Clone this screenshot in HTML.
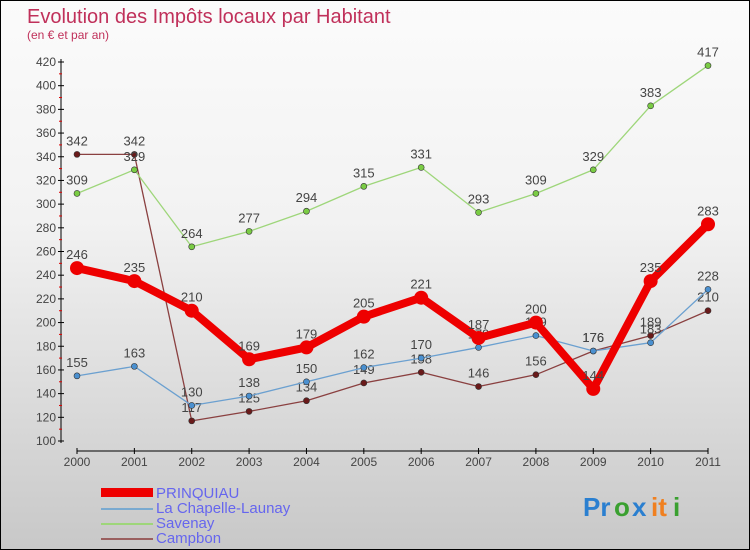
<!DOCTYPE html>
<html><head><meta charset="utf-8"><style>
body{margin:0}
#c{width:748px;height:548px;border:1px solid #000;background:linear-gradient(#fbfbfb,#f2f2f2 40%,#c8c8c8);position:relative;font-family:"Liberation Sans","DejaVu Sans",sans-serif}
</style></head><body>
<div id="c">
<svg id="s" width="748" height="548" style="position:absolute;left:0;top:0">
<text x="26" y="22" font-size="20" fill="#c0305a">Evolution des Impôts locaux par Habitant</text>
<text x="26" y="38" font-size="12" fill="#c0305a">(en € et par an)</text>
<g id="axes"></g><g id="series"></g>
<g>
<rect x="100" y="487" width="52" height="9" fill="#e00"/>
<rect x="100" y="507" width="52" height="2" fill="#7aaad0"/>
<rect x="100" y="522" width="52" height="2" fill="#9ed67a"/>
<rect x="100" y="537" width="52" height="2" fill="#9a6060"/>
<text x="155" y="497" font-size="15" fill="#6666ee">PRINQUIAU</text>
<text x="155" y="512" font-size="15" fill="#6666ee">La Chapelle-Launay</text>
<text x="155" y="527" font-size="15" fill="#6666ee">Savenay</text>
<text x="155" y="542" font-size="15" fill="#6666ee">Campbon</text>
</g>
<g font-size="26" font-weight="bold">
<text x="582" y="515" fill="#2a7fd0">Pr</text><text x="613" y="515" fill="#3aa030">o</text><text x="631" y="515" fill="#2a7fd0">x</text><text x="650" y="515" fill="#f08020">it</text><text x="672" y="515" fill="#3aa030">i</text>
</g>
</svg>
</div>
<script>
const years=["2000","2001","2002","2003","2004","2005","2006","2007","2008","2009","2010","2011"];
const yTicks=[100,120,140,160,180,200,220,240,260,280,300,320,340,360,380,400,420];
const prinquiau=[246,235,210,169,179,205,221,187,200,144,235,283];
const chapelle=[155,163,130,138,150,162,170,179,189,176,183,228];
const savenay=[309,329,264,277,294,315,331,293,309,329,383,417];
const campbon=[342,342,117,125,134,149,158,146,156,176,189,210];
const NS="http://www.w3.org/2000/svg";
const X=i=>76+i*(707-76)/(years.length-1);
const Y=v=>440-(v-100)*(440-61)/320;
function mk(p,t,a){const e=document.createElementNS(NS,t);for(const k in a)e.setAttribute(k,a[k]);p.appendChild(e);return e;}
const ax=document.getElementById('axes');
let yl=mk(ax,'line',{x1:60,y1:58,x2:60,y2:442,stroke:'#000'});


yTicks.forEach(v=>{
 mk(ax,'line',{x1:57,x2:63,y1:Y(v),y2:Y(v),stroke:'#000'});
 const t=mk(ax,'text',{x:55,y:Y(v)+4,'font-size':12,fill:'#444','text-anchor':'end'});t.textContent=v;
 
 
 if(v<420)mk(ax,'line',{x1:58,x2:61,y1:Y(v+10),y2:Y(v+10),stroke:'#d00'});
});
let xl=mk(ax,'line',{x1:76,y1:450,x2:707,y2:450,stroke:'#000'});


years.forEach((y,i)=>{
 mk(ax,'line',{x1:X(i),x2:X(i),y1:447,y2:453,stroke:'#000'});
 const t=mk(ax,'text',{x:X(i),y:465,'font-size':12,fill:'#444','text-anchor':'middle'});t.textContent=y;
 
 
});
const sg=document.getElementById('series');
function draw(name,vals,color,w,r,dot){
 const g=mk(sg,'g',{});
 
 
 mk(g,'polyline',{points:vals.map((v,i)=>X(i)+','+Y(v)).join(' '),fill:'none',stroke:color,'stroke-width':w,'stroke-linejoin':'round'});
 vals.forEach((v,i)=>{
  const c=mk(g,'circle',{cx:X(i),cy:Y(v),r:r,fill:dot,stroke:'#333','stroke-width':r>4?0:0.6});
  
  
  const t=mk(g,'text',{x:X(i),y:Y(v)-9,'font-size':13,fill:'#444','text-anchor':'middle'});t.textContent=v;
  
  
 });
}
draw('campbon',campbon,'#8a4040',1.3,3,'#6a1a1a');
draw('savenay',savenay,'#9ed67a',1.3,3,'#7acc44');
draw('chapelle',chapelle,'#6ba0d0',1.3,3,'#4a90d0');
draw('prinquiau',prinquiau,'#ee0000',8,7,'#ee0000');
</script>
</body></html>
